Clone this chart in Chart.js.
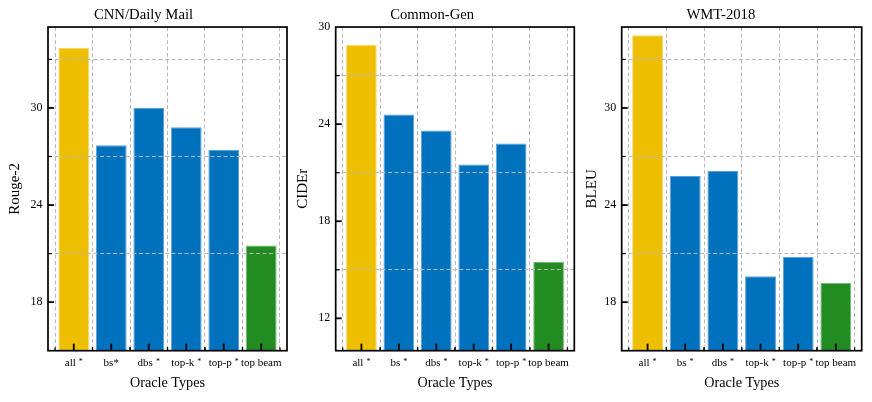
<!DOCTYPE html>
<html><head><meta charset="utf-8">
<script src="https://cdn.jsdelivr.net/npm/chart.js@4.4.1/dist/chart.umd.min.js"></script>
<style>
html,body{margin:0;padding:0;background:#fff;}
#wrap{position:relative;width:872px;height:402px;overflow:hidden;}
canvas{position:absolute;top:0;}
</style></head><body>
<div id="wrap">
<canvas id="c1" width="290" height="402" style="left:0px"></canvas>
<canvas id="c2" width="290" height="402" style="left:290px"></canvas>
<canvas id="c3" width="292" height="402" style="left:580px"></canvas>
</div>
<script>
// ---------- data ----------
const categories = ["all", "bs", "dbs", "top-k", "top-p", "top beam"];
const cnnTickLabels = ["all^*", "bs*", "dbs^*", "top-k^*", "top-p^*", "top beam"];
const genTickLabels = ["all^*", "bs^*", "dbs^*", "top-k^*", "top-p^*", "top beam"];
const wmtTickLabels = ["all^*", "bs^*", "dbs^*", "top-k^*", "top-p^*", "top beam"];

const cnnRouge2 = [33.7, 27.7, 30.0, 28.8, 27.4, 21.5];
const genCIDEr  = [28.9, 24.6, 23.6, 21.5, 22.8, 15.5];
const wmtBLEU   = [34.5, 25.8, 26.1, 19.6, 20.8, 19.2];

const cnnYTicks = [18, 24, 30];
const cnnYMinor = [21, 27, 33];
const genYTicks = [12, 18, 24, 30];
const genYMinor = [15, 21, 27];
const wmtYTicks = [18, 24, 30];
const wmtYMinor = [21, 27, 33];

// ---------- styles ----------
const FONT = '"Liberation Serif", "Times New Roman", serif';
const barFill   = ['#EDBF00', '#0072BD', '#0072BD', '#0072BD', '#0072BD', '#228B22'];
const barEdge   = ['#F4D766', '#5C9FD3', '#5C9FD3', '#5C9FD3', '#5C9FD3', '#73B473'];
const GRID = '#b8b8b8';

const framePlugin = {
  id: 'frame',
  afterDraw(chart, args, opts) {
    const {ctx, chartArea: a, scales: {x, y}} = chart;
    ctx.save();
    ctx.strokeStyle = '#000';
    ctx.lineCap = 'butt';
    const line = (x1, y1, x2, y2) => { ctx.beginPath(); ctx.moveTo(x1, y1); ctx.lineTo(x2, y2); ctx.stroke(); };
    // y ticks (inward)
    y.ticks.forEach(t => {
      const py = y.getPixelForValue(t.value);
      if (py < a.top + 0.5 || py > a.bottom - 0.5) return;
      const major = opts.yMajor.includes(t.value);
      ctx.lineWidth = major ? 1.8 : 1.2;
      line(a.left, py, a.left + (major ? 6 : 4), py);
    });
    // x ticks (inward): major at categories, minor at boundaries
    x.ticks.forEach(t => {
      const px = x.getPixelForValue(t.value);
      ctx.lineWidth = 1.8;
      line(px, a.bottom, px, a.bottom - 7);
      ctx.lineWidth = 1.2;
      [t.value - 0.5, t.value + 0.5].forEach(b => {
        const pb = x.getPixelForValue(b);
        line(pb, a.bottom, pb, a.bottom - 3.5);
      });
    });
    // frame
    ctx.lineWidth = 1.7;
    ctx.strokeRect(a.left, a.top, a.right - a.left, a.bottom - a.top);
    // x tick labels with superscript stars
    ctx.fillStyle = '#000';
    ctx.textBaseline = 'alphabetic';
    ctx.textAlign = 'left';
    const baseY = a.bottom + 15.5;
    opts.labels.forEach((lab, i) => {
      const sup = lab.endsWith('^*');
      const base = sup ? lab.slice(0, -2) : lab;
      ctx.font = '11px ' + FONT;
      const bw = ctx.measureText(base).width;
      ctx.font = '8px ' + FONT;
      const sw = sup ? ctx.measureText('*').width : 0;
      const gap = sup ? 3 : 0;
      const total = bw + gap + sw;
      const px = x.getPixelForValue(x.ticks[i].value);
      const sx = px - total / 2;
      ctx.font = '11px ' + FONT;
      ctx.fillText(base, sx, baseY);
      if (sup) {
        ctx.font = '8px ' + FONT;
        ctx.fillText('*', sx + bw + gap, baseY - 2);
      }
    });
    ctx.restore();
  }
};

function makeChart(id, title, yTitle, values, labels, yMin, yMax, yMajor, yMinor, geom) {
  const allY = yMajor.concat(yMinor).sort((p, q) => p - q);
  return new Chart(document.getElementById(id), {
    type: 'bar',
    data: {
      datasets: [{
        data: categories.map((c, i) => ({x: i, y: values[i]})),
        backgroundColor: barFill,
        borderColor: barEdge,
        borderWidth: 1,
        borderSkipped: false,
        barPercentage: 0.82,
        categoryPercentage: 1.0
      }]
    },
    options: {
      responsive: false,
      animation: false,
      events: [],
      layout: {padding: {left: 0, right: geom.right, top: 0, bottom: 0}},
      plugins: {
        legend: {display: false},
        tooltip: {enabled: false},
        title: {
          display: true, text: title, color: '#000',
          font: {family: FONT, size: 14.7, weight: 'normal'},
          padding: {top: 6.4, bottom: 3}
        },
        frame: {labels: labels, yMajor: yMajor}
      },
      scales: {
        x: {
          type: 'linear',
          min: -0.687, max: 5.687,
          offset: false,
          afterBuildTicks: s => { s.ticks = categories.map((c, i) => ({value: i})); },
          afterFit: s => { s.height = 51.3; },
          ticks: {display: false},
          grid: {offset: true, drawTicks: false, color: GRID, lineWidth: 1, z: 1},
          border: {display: false, dash: [4, 2.5]},
          title: {
            display: true, text: 'Oracle Types', color: '#000',
            font: {family: FONT, size: 14.2, weight: 'normal'},
            padding: {top: 0, bottom: 10.2}
          }
        },
        y: {
          type: 'linear',
          min: yMin, max: yMax,
          afterBuildTicks: s => { s.ticks = allY.map(v => ({value: v})); },
          afterFit: s => { s.width = geom.left; },
          ticks: {
            color: '#000', padding: 5.5,
            font: {family: FONT, size: 12},
            callback: v => yMajor.includes(v) ? String(v) : ''
          },
          grid: {
            drawTicks: false, lineWidth: 1, z: 1,
            color: ctx => (ctx.tick && yMinor.includes(ctx.tick.value)) ? GRID : 'rgba(0,0,0,0)'
          },
          border: {display: false, dash: [4, 2.5]},
          title: {
            display: true, text: yTitle, color: '#000',
            font: {family: FONT, size: 15, weight: 'normal'},
            padding: {top: geom.yTitle, bottom: 0}
          }
        }
      }
    },
    plugins: [framePlugin]
  });
}

makeChart('c1', 'CNN/Daily Mail', 'Rouge-2', cnnRouge2, cnnTickLabels, 15, 35, cnnYTicks, cnnYMinor, {left: 48, right: 3, yTitle: 6.5});
makeChart('c2', 'Common-Gen', 'CIDEr', genCIDEr, genTickLabels, 10, 30, genYTicks, genYMinor, {left: 45.7, right: 5.7, yTitle: 4.3});
makeChart('c3', 'WMT-2018', 'BLEU', wmtBLEU, wmtTickLabels, 15, 35, wmtYTicks, wmtYMinor, {left: 41.7, right: 10.3, yTitle: 3.3});
</script>
</body></html>
